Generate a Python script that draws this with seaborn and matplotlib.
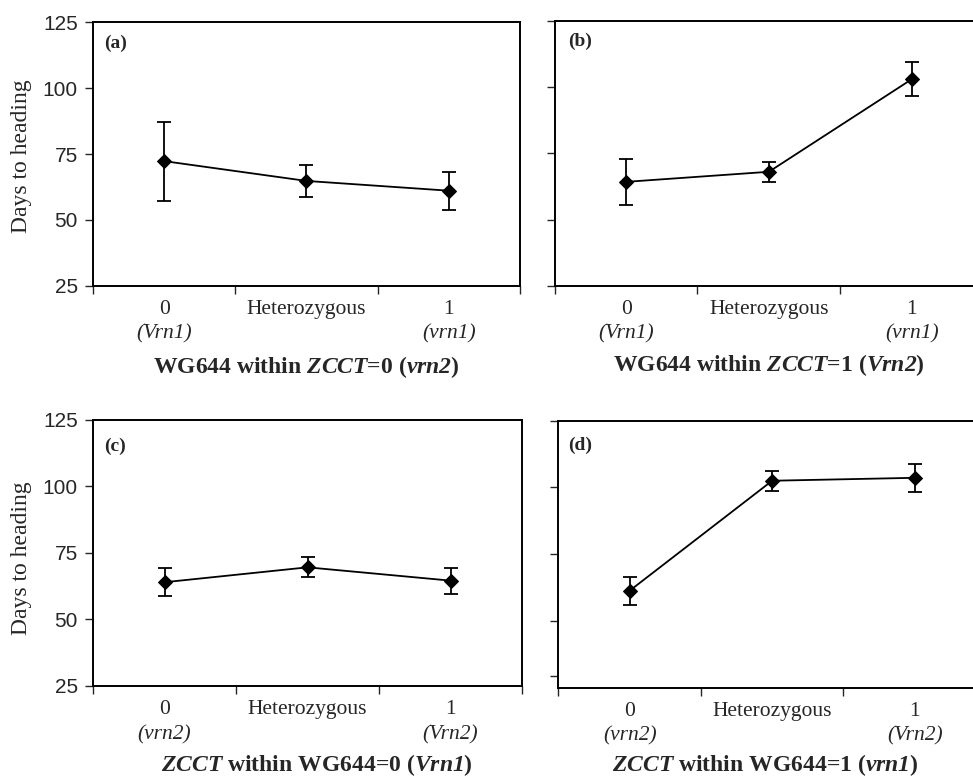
import numpy as np
import seaborn as sns
import matplotlib.pyplot as plt
import matplotlib.transforms as mtransforms

# values (mean days to heading, error bar half-width)
positions = [0, 1, 2]
means_a = [72.3, 64.8, 61.1]
errs_a = [15.0, 6.0, 7.2]
means_b = [64.3, 68.1, 103.0]
errs_b = [8.8, 3.7, 6.4]
means_c = [64.0, 69.6, 64.6]
errs_c = [5.3, 3.8, 4.9]
means_d = [61.3, 102.5, 103.6]
errs_d = [5.2, 3.7, 5.2]

cat_labels = ['0', 'Heterozygous', '1']
allele_vrn1 = ['(Vrn1)', '', '(vrn1)']
allele_vrn2 = ['(vrn2)', '', '(Vrn2)']
y_ticks = [25, 50, 75, 100, 125]
y_ticks_d = [29.5, 50, 75, 100, 125]

sns.set_style('ticks')
plt.rcParams['font.family'] = ['Liberation Serif', 'DejaVu Serif']
plt.rcParams['mathtext.fontset'] = 'custom'
# math is only used for the bold italic gene names in the axis titles
plt.rcParams['mathtext.rm'] = 'Liberation Serif:italic:bold'
plt.rcParams['mathtext.it'] = 'Liberation Serif:italic:bold'
plt.rcParams['mathtext.bf'] = 'Liberation Serif:italic:bold'
plt.rcParams['mathtext.bfit'] = 'Liberation Serif:italic:bold'

fig = plt.figure(figsize=(9.73, 7.78), dpi=100)

panels = [
    ([0.0956, 0.6324, 0.4388, 0.3393], means_a, errs_a, allele_vrn1, y_ticks, True,
     '(a)', (0.026, 0.92), 'WG644 within $\\mathbfit{ZCCT}$=0 ($\\mathbfit{vrn2}$)', (0.5, -0.307), 0.49, -0.182),
    ([0.5701, 0.6324, 0.4402, 0.3406], means_b, errs_b, allele_vrn1, y_ticks, False,
     '(b)', (0.031, 0.925), 'WG644 within $\\mathbfit{ZCCT}$=1 ($\\mathbfit{Vrn2}$)', (0.5, -0.3), 0.5, -0.18),
    ([0.0956, 0.1183, 0.4409, 0.3419], means_c, errs_c, allele_vrn2, y_ticks, True,
     '(c)', (0.026, 0.902), '$\\mathbfit{ZCCT}$ within WG644=0 ($\\mathbfit{Vrn1}$)', (0.521, -0.297), 0.48, -0.184),
    ([0.5738, 0.1161, 0.4396, 0.3432], means_d, errs_d, allele_vrn2, y_ticks_d, False,
     '(d)', (0.024, 0.909), '$\\mathbfit{ZCCT}$ within WG644=1 ($\\mathbfit{vrn1}$)', (0.483, -0.29), 0.5, -0.18),
]

for rect, means, errs, alleles, yt, show_y, tag, tagpos, xlab, xlabpos, ylab_y, allele_y in panels:
    ax = fig.add_axes(rect)
    sns.lineplot(x=positions, y=means, ax=ax, color='black', linewidth=1.3,
                 marker='D', markersize=7.5, markeredgecolor='black')
    ax.errorbar(positions, means, yerr=errs, fmt='none', ecolor='black',
                elinewidth=1.3, capsize=5, capthick=1.3)
    ax.set_xlim(-0.5, 2.5)
    ax.set_ylim(25, 125)
    ax.set_yticks(yt)
    ax.set_xticks(positions)
    ax.set_xticklabels(cat_labels, fontsize=15.5)
    ax.set_xticks([-0.5, 0.5, 1.5, 2.5], minor=True)
    ax.tick_params(axis='x', which='major', length=0, pad=10)
    ax.tick_params(axis='x', which='minor', length=6, width=1, direction='out')
    ax.tick_params(axis='y', length=6, width=1, direction='out', pad=5)
    trans = mtransforms.blended_transform_factory(ax.transData, ax.transAxes)
    for p, al in zip(positions, alleles):
        if al:
            ax.text(p, allele_y, al, transform=trans, fontsize=15.5, style='italic',
                    ha='center', va='center')
    if show_y:
        ax.set_yticklabels([str(v) for v in yt], fontsize=15, family='Liberation Sans')
        ax.set_ylabel('Days to heading', fontsize=17)
        ax.yaxis.set_label_coords(-0.142, ylab_y)
    else:
        ax.set_yticklabels([])
    for s in ax.spines.values():
        s.set_visible(True)
        s.set_linewidth(1.4)
        s.set_color('black')
    ax.text(tagpos[0], tagpos[1], tag, transform=ax.transAxes, fontsize=14,
            fontweight='bold', va='center', ha='left')
    ax.text(xlabpos[0], xlabpos[1], xlab, transform=ax.transAxes, fontsize=17,
            fontweight='bold', va='center', ha='center')

fig.savefig('out.png', dpi=100)
